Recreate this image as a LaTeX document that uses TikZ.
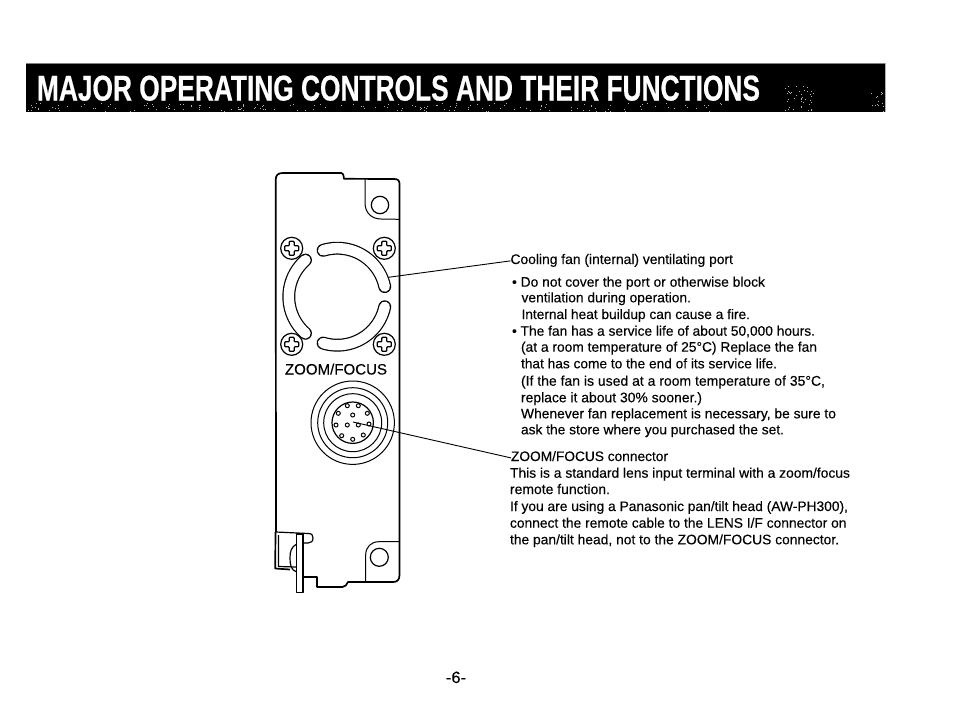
\documentclass[tikz,border=0pt]{standalone}
\usepackage{graphicx}
\usepackage{fontspec}
\setmainfont{Liberation Sans}[FakeBold=0.15]
\newfontfamily\titlefont{Liberation Sans Bold}[FakeBold=0.6]
\tikzset{
  part/.style={draw=black,line width=1.2pt,line join=round},
  body/.style={draw=black,line width=1.7pt,line join=round},
  thin part/.style={draw=black,line width=1.0pt},
  slot/.style={draw=black,line width=1.2pt,double=white,double distance=10.5pt,line cap=round},
  leader/.style={draw=black,line width=0.9pt},
  txt/.style={anchor=base west,inner sep=0pt,outer sep=0pt,text=black},
  speck/.style={fill=white!70!black,draw=none}
}
\newcommand{\tl}[5]{\node[txt] (#1) at (#2,#3) {\resizebox{#4pt}{!}{\fontsize{12.4pt}{14pt}\selectfont\strut #5}};}
\newcommand{\screw}[2]{%
  \draw[part] (#1,#2) circle[radius=11];
  \draw[part,rounded corners=0.8pt] (#1,#2) ++(-2.5,-7) -- ++(5,0) -- ++(0,4.5) -- ++(4.5,0) -- ++(0,5) -- ++(-4.5,0) -- ++(0,4.5) -- ++(-5,0) -- ++(0,-4.5) -- ++(-4.5,0) -- ++(0,-5) -- ++(4.5,0) -- cycle;}
\newcommand{\pin}[2]{\draw[thin part] (#1,#2) circle[radius=2];}
\begin{document}
\begin{tikzpicture}[x=1pt,y=-1pt]
\useasboundingbox (0,0) rectangle (954,713);
\fill[white] (0,0) rectangle (954,713);
% title band
\fill[black] (26,63) rectangle (885.5,112);
\draw[gray,line width=0.8pt] (26,63.4) -- (885.5,63.4);
\draw[gray!60,line width=0.6pt] (885.7,63) -- (885.7,112);
\pgfmathsetseed{11}
\foreach \i in {1,...,170}{
  \pgfmathsetmacro\dx{27+rnd*700}
  \pgfmathsetmacro\dy{103+rnd*8.5}
  \fill[speck] (\dx,\dy) rectangle ++(0.7,0.7);
}
\foreach \i in {1,...,40}{
  \pgfmathsetmacro\dx{785+rnd*28}
  \pgfmathsetmacro\dy{86+rnd*24}
  \fill[speck] (\dx,\dy) rectangle ++(0.7,0.7);
}
\foreach \i in {1,...,14}{
  \pgfmathsetmacro\dx{870+rnd*15}
  \pgfmathsetmacro\dy{92+rnd*19}
  \fill[speck] (\dx,\dy) rectangle ++(0.7,0.7);
}
\node[txt,text=white] (title) at (37,100.5) {\resizebox{723pt}{25pt}{\fontsize{34pt}{36pt}\titlefont MAJOR OPERATING CONTROLS AND THEIR FUNCTIONS}};
% housing
\draw[body] (276,532) -- (275.7,180) .. controls (275.7,175) and (278,173) .. (283,173)
  -- (341.5,173) .. controls (343,173) and (343.5,175) .. (344,178.8) -- (394,179)
  .. controls (398,179) and (399.5,180.5) .. (399.5,184) -- (399.5,575)
  .. controls (399.5,580) and (397,582) .. (393,582) -- (348,582) .. controls (347,585) and (345,586.5) .. (342.5,587)
  -- (317,587) -- (317,577) -- (303,577);
% top tab
\draw[thin part] (365,179) -- (365,203) .. controls (365,213) and (372,219) .. (381,219) -- (399,219.3);
\draw[part] (380,205) circle[radius=8.7];
% bottom tab
\draw[thin part] (399,541.7) -- (379,541.7) .. controls (371,541.7) and (365.7,547) .. (365.7,555) -- (365.7,581);
\draw[part] (379.3,557.3) circle[radius=9];
% bracket
\draw[part] (276,532) -- (308,533.5) .. controls (312,533.5) and (313,535) .. (313,538) .. controls (313,541.5) and (311,543) .. (308,543) -- (303,543);
\draw[part] (278.5,535) -- (278.5,566.5) -- (296.7,567);
\draw[body] (275.5,532) -- (275.2,568.5) -- (290,569.5);
\draw[part] (296.7,534) rectangle (303,592.5);
\draw[part] (296.7,544) .. controls (291,547) and (290,552) .. (290,558) .. controls (290,565) and (291,570) .. (296.7,572);
% fan slots
\coordinate (fan) at (337.3,296.7);
\draw[slot] (fan) ++(107:48.5) arc[start angle=107,end angle=12,radius=48.5];
\draw[slot] (fan) ++(131:48.5) arc[start angle=131,end angle=229,radius=48.5];
\draw[slot] (fan) ++(-107:48.5) arc[start angle=-107,end angle=-12,radius=48.5];
% screws
\screw{291.7}{248.3}
\screw{384.3}{248.3}
\screw{291.7}{344.3}
\screw{384.3}{344.3}
% connector
\coordinate (conn) at (352.7,422.7);
\draw[thin part] (conn) circle[radius=41.7];
\draw[thin part] (conn) circle[radius=35];
\draw[thin part] (conn) circle[radius=29];
\draw[part] (conn) circle[radius=20.7];
\pin{347.3}{405.7}\pin{358.3}{405.7}\pin{338.3}{413.3}\pin{367.3}{413.3}
\pin{352.7}{415}\pin{336}{425}\pin{347.3}{425}\pin{358.3}{425}\pin{369}{424}
\pin{341.7}{435.7}\pin{363.3}{435}\pin{352.7}{439.3}
% labels
\node[txt] (zoomlabel) at (285,374.5) {\resizebox{102pt}{!}{\fontsize{15pt}{17pt}\selectfont ZOOM/FOCUS}};
\node[txt] (pageno) at (446,683) {\resizebox{20pt}{!}{\fontsize{12.4pt}{14pt}\selectfont -6-}};
\tl{t1}{510.5}{264}{222.5}{Cooling fan (internal) ventilating port}
\tl{b1}{512}{286.7}{253}{\textbullet\ Do not cover the port or otherwise block}
\tl{t3}{521.5}{302.3}{169.5}{ventilation during operation.}
\tl{t4}{521.5}{319}{228.5}{Internal heat buildup can cause a fire.}
\tl{b2}{512}{335.7}{303}{\textbullet\ The fan has a service life of about 50,000 hours.}
\tl{t6}{521}{351.7}{296}{(at a room temperature of 25°C) Replace the fan}
\tl{t7}{521}{368.3}{256}{that has come to the end of its service life.}
\tl{t8}{521}{385.7}{304}{(If the fan is used at a room temperature of 35°C,}
\tl{t9}{521}{402.3}{181}{replace it about 30\% sooner.)}
\tl{t10}{521}{418.3}{315}{Whenever fan replacement is necessary, be sure to}
\tl{t11}{521}{434.3}{263}{ask the store where you purchased the set.}
\tl{c1}{511}{461}{157}{ZOOM/FOCUS connector}
\tl{c2}{510}{477.7}{340}{This is a standard lens input terminal with a zoom/focus}
\tl{c3}{510}{494}{100}{remote function.}
\tl{c4}{510}{511}{338}{If you are using a Panasonic pan/tilt head (AW-PH300),}
\tl{c5}{510}{527.7}{336.5}{connect the remote cable to the LENS I/F connector on}
\tl{c6}{510}{544.3}{329}{the pan/tilt head, not to the ZOOM/FOCUS connector.}
% leaders
\coordinate (fanport) at (388.3,277.3);
\coordinate (pinpoint) at (353,422);
\draw[leader] (fanport) -- (t1.west);
\draw[leader] (pinpoint) -- (c1.west);
\end{tikzpicture}
\end{document}
